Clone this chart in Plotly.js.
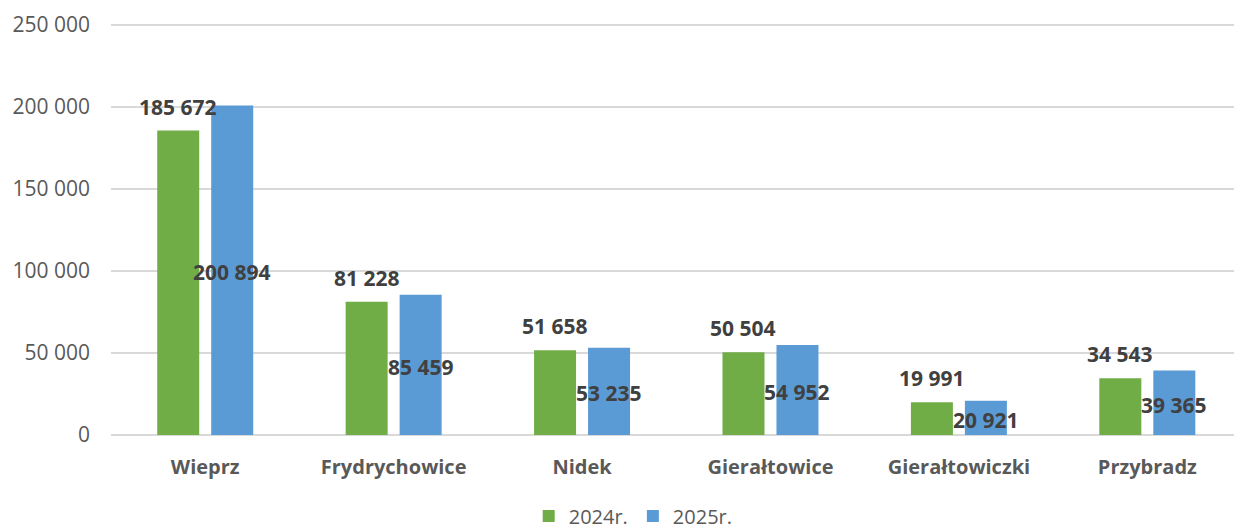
<!DOCTYPE html>
<html>
<head>
<meta charset="utf-8">
<script src="https://cdn.plot.ly/plotly-3.0.1.min.js"></script>
<style>html,body{margin:0;padding:0;background:#fff;}#chart{width:1234px;height:529px;}</style>
</head>
<body>
<div id="chart"></div>
<script>
const categories = ["Wieprz", "Frydrychowice", "Nidek", "Gierałtowice", "Gierałtowiczki", "Przybradz"];
const values2024 = [185672, 81228, 51658, 50504, 19991, 34543];
const values2025 = [200894, 85459, 53235, 54952, 20921, 39365];
const seriesNames = ["2024r.", "2025r."];
const yTicks = [0, 50000, 100000, 150000, 200000, 250000];

function fmt(v) {
  return String(v).replace(/\B(?=(\d{3})+(?!\d))/g, " ");
}

const fontFam = "'Open Sans', 'Noto Sans', sans-serif";

const traces = [
  {type: "bar", name: seriesNames[0], x: categories, y: values2024,
   marker: {color: "#70ad47"}, hoverinfo: "none"},
  {type: "bar", name: seriesNames[1], x: categories, y: values2025,
   marker: {color: "#5b9bd5"}, hoverinfo: "none"}
];

const annotations = [];
categories.forEach((c, i) => {
  annotations.push({x: c, y: values2024[i], xref: "x", yref: "y", text: fmt(values2024[i]),
    showarrow: false, xshift: -27, yshift: 24, yanchor: "middle",
    font: {family: fontFam, size: 21, color: "#404040", weight: "bold"}});
  annotations.push({x: c, y: values2025[i] / 2, xref: "x", yref: "y", text: fmt(values2025[i]),
    showarrow: false, xshift: 27, yshift: -2, yanchor: "middle",
    font: {family: fontFam, size: 21, color: "#404040", weight: "bold"}});
});

const layout = {
  width: 1234, height: 529,
  margin: {l: 111, r: 0, t: 20, b: 94, pad: 0, autoexpand: false},
  paper_bgcolor: "#ffffff", plot_bgcolor: "#ffffff",
  separators: ", ",
  barmode: "group",
  bargap: 0.427,
  bargroupgap: 0.222,
  showlegend: true,
  legend: {orientation: "h", x: 0.465, xanchor: "center", y: -0.195, yanchor: "middle",
    font: {family: fontFam, size: 20, color: "#595959"}, itemwidth: 30, traceorder: "normal"},
  xaxis: {type: "category", range: [-0.5, 5.46], showgrid: false, zeroline: false,
    showline: false, ticks: "", ticklabelstandoff: 18,
    tickfont: {family: fontFam, size: 20, color: "#595959", weight: "bold"}},
  yaxis: {range: [0, 253049], tickvals: yTicks, ticktext: yTicks.map(fmt),
    showgrid: true, gridcolor: "#d9d9d9", gridwidth: 2, zeroline: true, zerolinecolor: "#d9d9d9",
    zerolinewidth: 2, showline: false, ticks: "", ticklabelstandoff: 20,
    tickfont: {family: fontFam, size: 21, color: "#595959"}},
  annotations: annotations
};

Plotly.newPlot("chart", traces, layout, {displayModeBar: false, staticPlot: true});
</script>
</body>
</html>
